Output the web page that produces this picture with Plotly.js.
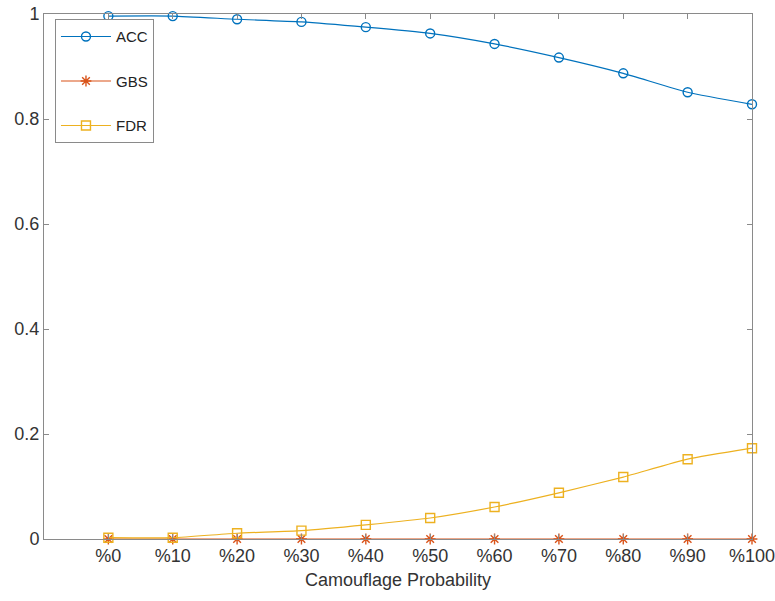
<!DOCTYPE html>
<html>
<head>
<meta charset="utf-8">
<script src="https://cdn.plot.ly/plotly-3.0.1.min.js"></script>
<style>html,body{margin:0;padding:0;background:#fff;}#chart{width:775px;height:601px;}</style>
</head>
<body>
<div id="chart"></div>
<script>
var categories = ['%0','%10','%20','%30','%40','%50','%60','%70','%80','%90','%100'];
var accValues = [0.996, 0.996, 0.990, 0.985, 0.975, 0.963, 0.943, 0.917, 0.887, 0.851, 0.828];
var gbsValues = [0, 0, 0, 0, 0, 0, 0, 0, 0, 0, 0];
var fdrValues = [0.0025, 0.0025, 0.011, 0.016, 0.027, 0.040, 0.061, 0.088, 0.118, 0.152, 0.173];
var yTickVals = [0, 0.2, 0.4, 0.6, 0.8, 1];
var yTickText = ['0', '0.2', '0.4', '0.6', '0.8', '1'];

function mk(name, y, color, symbol, grp) {
  return {
    x: categories, y: y, name: name, type: 'scatter', mode: 'lines+markers',
    line: {color: color, width: 1.2, shape: 'spline', smoothing: 0.5},
    marker: {symbol: symbol, size: 9, color: color, line: {color: color, width: 1.4}},
    cliponaxis: false, legendgroup: grp
  };
}
var data = [
  mk('ACC', accValues, '#0072BD', 'circle-open', 'a'),
  mk('GBS', gbsValues, '#D95319', 'asterisk-open', 'b'),
  mk('FDR', fdrValues, '#EDB120', 'square-open', 'c')
];
var axisCommon = {
  showline: true, linecolor: '#8a8a8a', linewidth: 1, mirror: 'ticks',
  ticks: 'inside', ticklen: 5, tickcolor: '#8a8a8a', showgrid: false, zeroline: false,
  tickfont: {family: 'Liberation Sans, Arial, sans-serif', size: 18, color: '#333'}
};
var layout = {
  width: 775, height: 601,
  margin: {l: 44, r: 23, t: 14, b: 62},
  paper_bgcolor: '#fff', plot_bgcolor: '#fff',
  showlegend: true,
  xaxis: Object.assign({}, axisCommon, {
    type: 'category', range: [-1, 10],
    title: {text: 'Camouflage Probability', font: {family: 'Liberation Sans, Arial, sans-serif', size: 18, color: '#333'}, standoff: 8}
  }),
  yaxis: Object.assign({}, axisCommon, {
    range: [0, 1], tickvals: yTickVals, ticktext: yTickText
  }),
  legend: {
    x: 0.0155, y: 0.99, xanchor: 'left', yanchor: 'top',
    bgcolor: '#fff', bordercolor: '#8a8a8a', borderwidth: 1,
    font: {family: 'Liberation Sans, Arial, sans-serif', size: 15, color: '#222'},
    tracegroupgap: 22, traceorder: 'grouped', itemwidth: 50
  }
};
Plotly.newPlot('chart', data, layout, {displayModeBar: false, staticPlot: true});
</script>
</body>
</html>
